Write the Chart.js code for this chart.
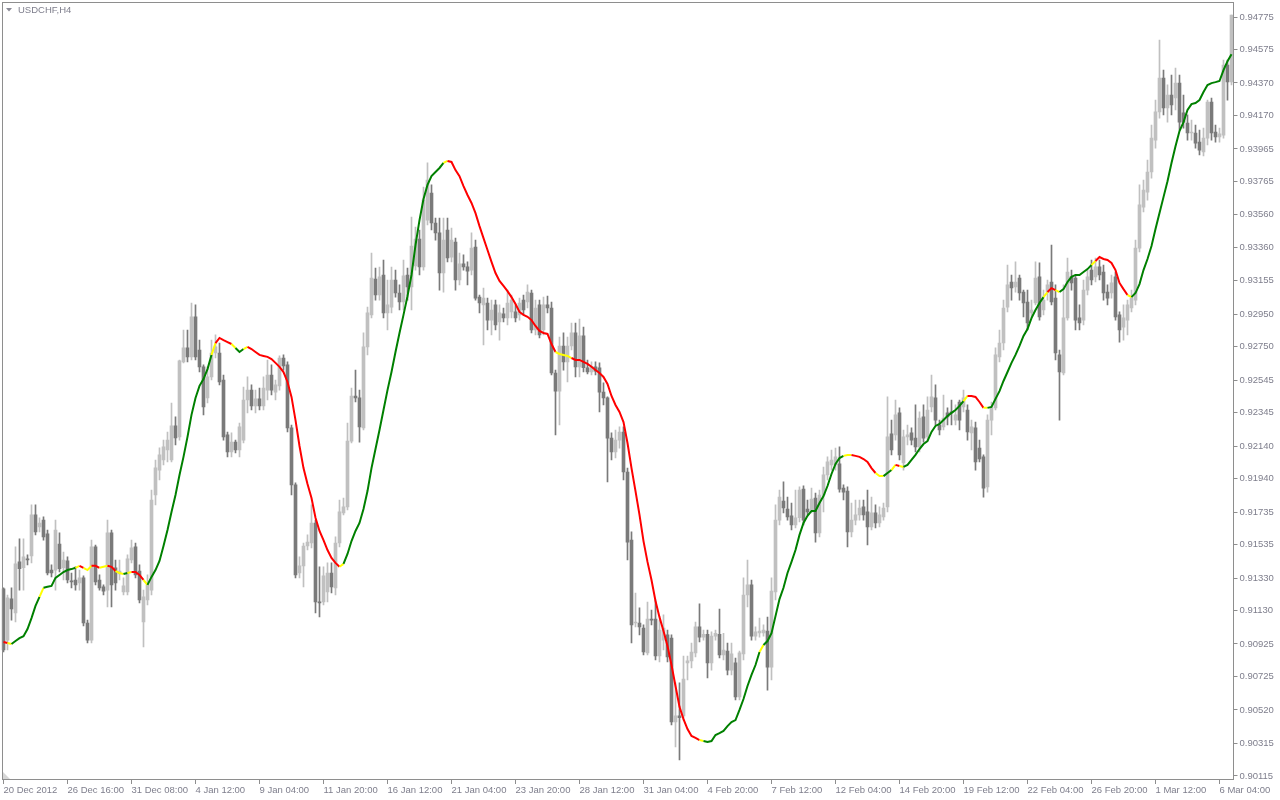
<!DOCTYPE html>
<html>
<head>
<meta charset="utf-8">
<title>USDCHF,H4</title>
<script src="https://cdn.jsdelivr.net/npm/chart.js@4/dist/chart.umd.min.js"></script>
<style>
  html, body { margin: 0; padding: 0; background: #ffffff; }
  #wrap { width: 1280px; height: 800px; }
</style>
</head>
<body>
<div id="wrap"><canvas id="chart" width="1280" height="800"></canvas></div>
<script>
// USDCHF H4 candles, 20 Dec 2012 .. 6 Mar 2013
const opens = [
  0.91264,0.90949,0.91202,0.91116,0.91429,0.91393,0.91448,0.91466,0.91718,0.91644,
  0.91686,0.91601,0.91379,0.91379,0.91539,0.91393,0.91435,0.91312,0.91318,0.91300,
  0.91331,0.91054,0.90949,0.91521,0.91318,0.91276,0.91256,0.91607,0.91393,0.91355,
  0.91244,0.91244,0.91441,0.91521,0.91373,0.91060,0.91195,0.91256,0.91840,0.91993,
  0.92055,0.92116,0.92055,0.92264,0.92197,0.92657,0.92743,0.92688,0.92934,0.92730,
  0.92627,0.92436,0.92565,0.92712,0.92712,0.92546,0.92209,0.92104,0.92165,0.92116,
  0.92177,0.92423,0.92484,0.92387,0.92430,0.92387,0.92484,0.92577,0.92472,0.92510,
  0.92681,0.92639,0.92252,0.91902,0.91361,0.91405,0.91527,0.91545,0.91668,0.91183,
  0.91183,0.91244,0.91361,0.91270,0.91545,0.91730,0.91767,0.92171,0.92448,0.92436,
  0.92252,0.92749,0.92946,0.93166,0.93068,0.93191,0.92958,0.92994,0.93160,0.93080,
  0.93025,0.93191,0.93118,0.93247,0.93411,0.93241,0.93528,0.93694,0.93510,0.93449,
  0.93203,0.93467,0.93301,0.93393,0.93160,0.93259,0.93241,0.93221,0.93362,0.93055,
  0.93007,0.93019,0.92914,0.93007,0.92902,0.92952,0.92928,0.92964,0.92964,0.92946,
  0.93037,0.93025,0.93080,0.92853,0.93007,0.92853,0.93007,0.92988,0.92589,0.92478,
  0.92755,0.92657,0.92755,0.92835,0.92627,0.92817,0.92621,0.92595,0.92627,0.92621,
  0.92472,0.92436,0.92189,0.92104,0.92177,0.92227,0.91981,0.91563,0.91054,0.91054,
  0.91023,0.90870,0.91078,0.91078,0.90852,0.90949,0.90981,0.90961,0.90446,0.90484,
  0.90484,0.90809,0.90821,0.90870,0.91030,0.90967,0.90985,0.90809,0.90973,0.90985,
  0.90858,0.90882,0.90765,0.90809,0.90600,0.90864,0.91226,0.91288,0.90973,0.90993,
  0.90993,0.91005,0.90783,0.91244,0.91686,0.91803,0.91754,0.91712,0.91656,0.91700,
  0.91876,0.91754,0.91748,0.91821,0.91607,0.91840,0.91963,0.92025,0.92025,0.92031,
  0.91882,0.91864,0.91613,0.91686,0.91718,0.91767,0.91736,0.91644,0.91730,0.91668,
  0.91706,0.91767,0.92215,0.92209,0.92344,0.92037,0.92197,0.92221,0.92189,0.92135,
  0.92320,0.92197,0.92381,0.92436,0.92270,0.92258,0.92344,0.92350,0.92300,0.92411,
  0.92381,0.92362,0.92221,0.92252,0.92128,0.92074,0.91890,0.92300,0.92375,0.92688,
  0.92773,0.92994,0.93148,0.93118,0.93172,0.93086,0.93025,0.92958,0.93019,0.93179,
  0.92976,0.93086,0.93148,0.93049,0.92700,0.92589,0.92928,0.93179,0.93172,0.92928,
  0.92914,0.93098,0.93221,0.93179,0.93241,0.93209,0.93086,0.93080,0.93179,0.92946,
  0.92871,0.92914,0.92988,0.93037,0.93356,0.93608,0.93700,0.93823,0.94019,0.94192,
  0.94400,0.94216,0.94296,0.94278,0.94370,0.94186,0.94124,0.94063,0.94063,0.94007,
  0.93946,0.94031,0.94253,0.94069,0.94038,0.94050,0.94480,0.94376
];
const highs = [
  0.91270,0.91226,0.91270,0.91521,0.91571,0.91571,0.91472,0.91779,0.91779,0.91700,
  0.91706,0.91625,0.91411,0.91686,0.91607,0.91490,0.91460,0.91361,0.91399,0.91379,
  0.91343,0.91072,0.91563,0.91533,0.91349,0.91288,0.91686,0.91625,0.91441,0.91441,
  0.91331,0.91472,0.91563,0.91545,0.91411,0.91256,0.91349,0.91870,0.92055,0.92129,
  0.92177,0.92227,0.92405,0.92320,0.92669,0.92853,0.92853,0.93019,0.93007,0.92791,
  0.92639,0.92627,0.92791,0.92823,0.92773,0.92577,0.92227,0.92221,0.92177,0.92282,
  0.92502,0.92565,0.92516,0.92484,0.92496,0.92565,0.92669,0.92639,0.92546,0.92694,
  0.92700,0.92657,0.92270,0.91914,0.91460,0.91545,0.91595,0.91779,0.91686,0.91399,
  0.91399,0.91423,0.91423,0.91583,0.91809,0.91821,0.92282,0.92496,0.92607,0.92484,
  0.92835,0.92994,0.93326,0.93233,0.93239,0.93283,0.93160,0.93239,0.93221,0.93130,
  0.93283,0.93233,0.93546,0.93485,0.93467,0.93730,0.93879,0.93744,0.93540,0.93540,
  0.93540,0.93540,0.93479,0.93417,0.93326,0.93314,0.93271,0.93449,0.93405,0.93068,
  0.93110,0.93049,0.93037,0.93037,0.93007,0.92988,0.93098,0.93068,0.93007,0.93049,
  0.93068,0.93130,0.93098,0.93037,0.93037,0.93055,0.93061,0.93025,0.92607,0.92809,
  0.92835,0.92809,0.92896,0.92896,0.92920,0.92871,0.92669,0.92657,0.92657,0.92651,
  0.92528,0.92442,0.92221,0.92239,0.92258,0.92258,0.92005,0.91613,0.91238,0.91147,
  0.91042,0.91183,0.91134,0.91195,0.91072,0.91104,0.91011,0.90981,0.90686,0.90686,
  0.90851,0.90851,0.90931,0.91060,0.91171,0.91011,0.91011,0.90999,0.91011,0.91140,
  0.90991,0.90931,0.90931,0.90839,0.90882,0.91331,0.91441,0.91318,0.91030,0.91084,
  0.91042,0.91090,0.91331,0.91779,0.91870,0.91920,0.91827,0.91791,0.91870,0.91890,
  0.91896,0.91809,0.91882,0.91852,0.91870,0.92011,0.92074,0.92116,0.92128,0.92135,
  0.91902,0.91890,0.91791,0.91809,0.91809,0.91809,0.91870,0.91827,0.91779,0.91767,
  0.91791,0.92442,0.92300,0.92423,0.92375,0.92239,0.92270,0.92252,0.92393,0.92350,
  0.92393,0.92442,0.92577,0.92516,0.92300,0.92454,0.92375,0.92423,0.92393,0.92423,
  0.92484,0.92393,0.92300,0.92288,0.92177,0.92086,0.92332,0.92411,0.92743,0.92853,
  0.93037,0.93252,0.93191,0.93271,0.93191,0.93098,0.93098,0.93037,0.93271,0.93265,
  0.93098,0.93160,0.93374,0.93130,0.92730,0.93130,0.93295,0.93221,0.93191,0.93007,
  0.93160,0.93221,0.93283,0.93295,0.93283,0.93252,0.93130,0.93191,0.93209,0.92964,
  0.93007,0.93037,0.93098,0.93405,0.93744,0.93774,0.93897,0.94112,0.94265,0.94633,
  0.94449,0.94358,0.94419,0.94461,0.94419,0.94296,0.94174,0.94142,0.94112,0.94081,
  0.94093,0.94265,0.94277,0.94112,0.94093,0.94511,0.94511,0.94787
];
const lows = [
  0.90876,0.90888,0.91072,0.91060,0.91256,0.91256,0.91411,0.91423,0.91595,0.91613,
  0.91563,0.91349,0.91337,0.91256,0.91367,0.91318,0.91300,0.91270,0.91256,0.91256,
  0.91036,0.90931,0.90931,0.91288,0.91256,0.91226,0.91153,0.91153,0.91256,0.91318,
  0.91226,0.91226,0.91423,0.91331,0.91177,0.90907,0.91165,0.91226,0.91779,0.91932,
  0.92025,0.92043,0.92043,0.92147,0.92177,0.92651,0.92657,0.92669,0.92669,0.92595,
  0.92332,0.92405,0.92546,0.92681,0.92516,0.92177,0.92074,0.92074,0.92098,0.92074,
  0.92159,0.92344,0.92362,0.92344,0.92362,0.92362,0.92423,0.92454,0.92423,0.92484,
  0.92607,0.92227,0.91840,0.91331,0.91331,0.91276,0.91502,0.91515,0.91116,0.91092,
  0.91165,0.91183,0.91238,0.91226,0.91521,0.91718,0.91748,0.92159,0.92411,0.92165,
  0.92239,0.92700,0.92928,0.93037,0.93037,0.92928,0.92853,0.92958,0.93055,0.92976,
  0.92976,0.93037,0.92976,0.93221,0.93191,0.93221,0.93498,0.93467,0.93405,0.93098,
  0.93086,0.93271,0.93271,0.93098,0.93130,0.93221,0.93130,0.93191,0.93037,0.92958,
  0.92761,0.92853,0.92823,0.92853,0.92791,0.92902,0.92884,0.92928,0.92902,0.92914,
  0.92946,0.92988,0.92835,0.92823,0.92805,0.92823,0.92958,0.92577,0.92209,0.92270,
  0.92607,0.92534,0.92730,0.92565,0.92565,0.92595,0.92583,0.92577,0.92577,0.92350,
  0.92393,0.91920,0.92055,0.92067,0.92128,0.91932,0.91441,0.90931,0.91030,0.90981,
  0.90858,0.90858,0.91042,0.90827,0.90815,0.90888,0.90815,0.90428,0.90293,0.90213,
  0.90458,0.90704,0.90778,0.90846,0.90937,0.90949,0.90716,0.90765,0.90949,0.90840,
  0.90827,0.90735,0.90735,0.90581,0.90581,0.90827,0.91153,0.90949,0.90949,0.90967,
  0.90973,0.90642,0.90704,0.91195,0.91656,0.91730,0.91686,0.91625,0.91637,0.91674,
  0.91656,0.91718,0.91730,0.91551,0.91583,0.91736,0.91932,0.91993,0.91993,0.91858,
  0.91809,0.91521,0.91583,0.91656,0.91686,0.91686,0.91533,0.91625,0.91637,0.91644,
  0.91686,0.91736,0.92086,0.92177,0.92055,0.91993,0.92147,0.92147,0.92104,0.92104,
  0.92165,0.92177,0.92350,0.92270,0.92209,0.92239,0.92270,0.92270,0.92270,0.92239,
  0.92350,0.92177,0.92116,0.91993,0.92043,0.91827,0.91858,0.92209,0.92362,0.92657,
  0.92730,0.92964,0.93037,0.93086,0.93037,0.92934,0.92853,0.92928,0.93007,0.92914,
  0.92946,0.93037,0.93007,0.92669,0.92300,0.92577,0.92914,0.93098,0.92853,0.92853,
  0.92884,0.93068,0.93130,0.93148,0.93160,0.93037,0.93007,0.93049,0.92914,0.92779,
  0.92791,0.92823,0.92964,0.93007,0.93332,0.93578,0.93651,0.93786,0.93970,0.94154,
  0.94174,0.94130,0.94174,0.94204,0.94081,0.94093,0.94019,0.94019,0.93970,0.93928,
  0.93922,0.93989,0.94019,0.94007,0.94007,0.94031,0.94265,0.94358
];
const closes = [
  0.90888,0.91208,0.91141,0.91417,0.91387,0.91460,0.91441,0.91718,0.91613,0.91668,
  0.91583,0.91361,0.91361,0.91625,0.91387,0.91441,0.91318,0.91306,0.91288,0.91331,
  0.91054,0.90949,0.91521,0.91306,0.91270,0.91250,0.91607,0.91288,0.91300,0.91373,
  0.91282,0.91448,0.91515,0.91349,0.91195,0.91214,0.91288,0.91809,0.92007,0.92086,
  0.92135,0.92177,0.92264,0.92191,0.92663,0.92743,0.92688,0.92934,0.92688,0.92627,
  0.92381,0.92565,0.92712,0.92749,0.92534,0.92197,0.92104,0.92165,0.92116,0.92258,
  0.92423,0.92484,0.92387,0.92430,0.92387,0.92496,0.92577,0.92484,0.92516,0.92681,
  0.92633,0.92252,0.91902,0.91349,0.91405,0.91527,0.91551,0.91668,0.91183,0.91177,
  0.91343,0.91361,0.91276,0.91545,0.91736,0.91767,0.92171,0.92448,0.92436,0.92258,
  0.92749,0.92958,0.93172,0.93068,0.93179,0.92958,0.93007,0.93160,0.93080,0.93025,
  0.93185,0.93118,0.93369,0.93411,0.93241,0.93651,0.93774,0.93510,0.93449,0.93203,
  0.93405,0.93295,0.93405,0.93160,0.93259,0.93241,0.93215,0.93356,0.93049,0.93019,
  0.93049,0.92914,0.92976,0.92884,0.92958,0.92928,0.93019,0.93037,0.92928,0.93019,
  0.92976,0.93086,0.92853,0.92988,0.92823,0.93007,0.92988,0.92589,0.92478,0.92755,
  0.92657,0.92755,0.92835,0.92627,0.92817,0.92621,0.92595,0.92627,0.92601,0.92472,
  0.92436,0.92189,0.92104,0.92177,0.92227,0.91981,0.91551,0.91042,0.91060,0.91030,
  0.90876,0.91078,0.91072,0.90852,0.91011,0.91023,0.90846,0.90446,0.90484,0.90472,
  0.90710,0.90821,0.90876,0.91030,0.90967,0.90985,0.90809,0.90973,0.90991,0.90858,
  0.90888,0.90765,0.90864,0.90600,0.90870,0.91226,0.91288,0.90973,0.90999,0.91005,
  0.91011,0.90783,0.91250,0.91686,0.91827,0.91760,0.91706,0.91656,0.91700,0.91870,
  0.91686,0.91736,0.91815,0.91607,0.91840,0.91963,0.92043,0.92055,0.92074,0.91876,
  0.91858,0.91613,0.91686,0.91718,0.91760,0.91718,0.91644,0.91730,0.91668,0.91718,
  0.91760,0.92197,0.92116,0.92332,0.92086,0.92197,0.92209,0.92177,0.92135,0.92312,
  0.92189,0.92362,0.92442,0.92300,0.92239,0.92312,0.92320,0.92344,0.92332,0.92300,
  0.92436,0.92227,0.92258,0.92043,0.92061,0.91882,0.92300,0.92375,0.92700,0.92773,
  0.92988,0.93130,0.93112,0.93148,0.93080,0.93019,0.92896,0.92976,0.93172,0.92934,
  0.93037,0.93130,0.93025,0.92712,0.92595,0.92928,0.93209,0.93142,0.92914,0.92896,
  0.93098,0.93179,0.93160,0.93241,0.93191,0.93080,0.93049,0.93142,0.92934,0.92853,
  0.92928,0.93007,0.93049,0.93356,0.93621,0.93712,0.93823,0.94031,0.94192,0.94400,
  0.94216,0.94296,0.94235,0.94370,0.94130,0.94130,0.94063,0.94069,0.94001,0.93958,
  0.94031,0.94253,0.94063,0.94038,0.94057,0.94480,0.94376,0.94787
];
// smoothed trend line, one value per bar
const ma = [
  0.90937,0.90931,0.90925,0.90943,0.90961,0.90973,0.91017,0.91084,0.91159,0.91214,
  0.91270,0.91276,0.91282,0.91331,0.91349,0.91367,0.91379,0.91385,0.91393,0.91405,
  0.91393,0.91379,0.91405,0.91405,0.91393,0.91399,0.91405,0.91399,0.91373,0.91361,
  0.91355,0.91361,0.91367,0.91367,0.91349,0.91318,0.91288,0.91337,0.91379,0.91435,
  0.91527,0.91625,0.91736,0.91840,0.91963,0.92074,0.92197,0.92332,0.92436,0.92510,
  0.92552,0.92613,0.92700,0.92773,0.92804,0.92791,0.92779,0.92767,0.92743,0.92718,
  0.92736,0.92749,0.92736,0.92718,0.92700,0.92694,0.92688,0.92675,0.92651,0.92627,
  0.92595,0.92534,0.92442,0.92300,0.92141,0.92005,0.91908,0.91821,0.91700,0.91619,
  0.91563,0.91502,0.91453,0.91423,0.91399,0.91417,0.91478,0.91557,0.91619,0.91668,
  0.91754,0.91864,0.92005,0.92122,0.92239,0.92362,0.92484,0.92595,0.92718,0.92835,
  0.92946,0.93061,0.93191,0.93374,0.93528,0.93657,0.93744,0.93798,0.93823,0.93848,
  0.93879,0.93891,0.93885,0.93835,0.93798,0.93737,0.93682,0.93633,0.93571,0.93491,
  0.93417,0.93344,0.93271,0.93203,0.93154,0.93124,0.93092,0.93055,0.93013,0.92964,
  0.92946,0.92934,0.92914,0.92878,0.92847,0.92835,0.92829,0.92767,0.92718,0.92706,
  0.92700,0.92694,0.92681,0.92669,0.92669,0.92657,0.92645,0.92627,0.92607,0.92589,
  0.92565,0.92522,0.92448,0.92393,0.92350,0.92288,0.92159,0.92005,0.91864,0.91718,
  0.91557,0.91429,0.91318,0.91189,0.91090,0.91005,0.90913,0.90796,0.90667,0.90539,
  0.90464,0.90403,0.90360,0.90348,0.90335,0.90329,0.90323,0.90329,0.90366,0.90378,
  0.90391,0.90421,0.90446,0.90458,0.90520,0.90587,0.90667,0.90735,0.90796,0.90876,
  0.90919,0.90943,0.90991,0.91096,0.91201,0.91270,0.91361,0.91429,0.91502,0.91595,
  0.91668,0.91712,0.91742,0.91742,0.91791,0.91833,0.91895,0.91969,0.92031,0.92067,
  0.92080,0.92086,0.92086,0.92080,0.92074,0.92061,0.92043,0.92005,0.91975,0.91956,
  0.91956,0.91975,0.91993,0.92025,0.92018,0.92012,0.92025,0.92055,0.92086,0.92122,
  0.92153,0.92171,0.92227,0.92264,0.92276,0.92300,0.92325,0.92344,0.92362,0.92387,
  0.92417,0.92448,0.92448,0.92442,0.92411,0.92375,0.92375,0.92381,0.92430,0.92478,
  0.92540,0.92595,0.92651,0.92700,0.92755,0.92817,0.92859,0.92926,0.92976,0.93019,
  0.93055,0.93086,0.93110,0.93098,0.93086,0.93104,0.93148,0.93179,0.93191,0.93191,
  0.93209,0.93227,0.93252,0.93277,0.93301,0.93289,0.93283,0.93265,0.93221,0.93142,
  0.93104,0.93068,0.93055,0.93080,0.93135,0.93221,0.93289,0.93369,0.93473,0.93571,
  0.93669,0.93767,0.93878,0.93982,0.94075,0.94130,0.94204,0.94240,0.94247,0.94265,
  0.94314,0.94357,0.94369,0.94375,0.94382,0.94449,0.94504,0.94547
];
// line colour state as [code, number of bars]: g up, r down, y flat
const maColorRuns = [
  ['r',1],['y',1],['g',7],['y',1],['g',8],['y',1],['r',1],['y',2],['r',2],['y',2],
  ['r',2],['y',2],['g',1],['y',1],['r',3],['y',1],['g',16],['y',1],['r',4],['y',1],
  ['g',2],['y',1],['r',23],['y',1],['g',25],['y',1],['r',27],['y',4],['r',32],['y',1],
  ['g',14],['y',1],['g',20],['y',2],['r',6],['y',2],['g',2],['y',1],['r',1],['y',1],
  ['g',15],['y',1],['r',4],['y',1],['g',14],['y',1],['r',2],['y',1],['g',8],['y',1],
  ['r',8],['y',1],['g',26]
];
const dateLabels = [
  '20 Dec 2012','26 Dec 16:00','31 Dec 08:00','4 Jan 12:00','9 Jan 04:00',
  '11 Jan 20:00','16 Jan 12:00','21 Jan 04:00','23 Jan 20:00','28 Jan 12:00',
  '31 Jan 04:00','4 Feb 20:00','7 Feb 12:00','12 Feb 04:00','14 Feb 20:00',
  '19 Feb 12:00','22 Feb 04:00','26 Feb 20:00','1 Mar 12:00','6 Mar 04:00'
];
const barsPerLabel = 16;
const priceTicks = [
  0.94775,0.94575,0.94370,0.94170,0.93965,0.93765,0.93560,0.93360,0.93155,0.92950,
  0.92750,0.92545,0.92345,0.92140,0.91940,0.91735,0.91535,0.91330,0.91130,0.90925,
  0.90725,0.90520,0.90315,0.90115
];

const bullColor = '#c0c0c0';
const bearColor = '#7a7a7a';
const lineColors = { g: '#008000', r: '#ff0000', y: '#ffff00' };
const axisColor = '#8e8e8e';
const textColor = '#7e7e8c';
const font = { family: "'Liberation Sans', Arial, sans-serif", size: 9.5 };

const maState = maColorRuns.flatMap(([c, n]) => Array(n).fill(c));
const candleColor = opens.map((o, i) => closes[i] >= o ? bullColor : bearColor);

// border, symbol caption and corner mark, like the terminal window
const chartFrame = {
  id: 'chartFrame',
  afterDraw(chart) {
    const { ctx, chartArea: a } = chart;
    const l = Math.round(a.left) + 0.5, t = Math.round(a.top) - 0.5;
    const r = Math.floor(a.right) + 0.5, b = Math.floor(a.bottom) + 0.5;
    ctx.save();
    ctx.strokeStyle = axisColor;
    ctx.lineWidth = 1;
    ctx.strokeRect(l, t, r - l, b - t);
    ctx.fillStyle = '#8a8a96';
    ctx.beginPath();
    ctx.moveTo(6, 8); ctx.lineTo(12, 8); ctx.lineTo(9, 11.5); ctx.closePath();
    ctx.fill();
    ctx.font = "9.5px 'Liberation Sans', Arial, sans-serif";
    ctx.fillStyle = textColor;
    ctx.textBaseline = 'middle';
    ctx.fillText('USDCHF,H4', 18, 10);
    ctx.fillStyle = '#d6d6d6';
    ctx.beginPath();
    ctx.moveTo(3, 772); ctx.lineTo(3, 779); ctx.lineTo(10, 779); ctx.closePath();
    ctx.fill();
    ctx.restore();
  }
};

new Chart(document.getElementById('chart'), {
  type: 'bar',
  data: {
    labels: opens.map((_, i) => i),
    datasets: [
      {
        type: 'line',
        data: ma,
        order: 0,
        borderWidth: 2,
        borderColor: lineColors.g,
        pointRadius: 0,
        tension: 0,
        segment: { borderColor: c => lineColors[maState[c.p0DataIndex]] }
      },
      {
        data: opens.map((o, i) => [o, closes[i]]),
        order: 1,
        grouped: false,
        barThickness: 3,
        minBarLength: 1,
        backgroundColor: candleColor
      },
      {
        data: lows.map((l, i) => [l, highs[i]]),
        order: 2,
        grouped: false,
        barThickness: 1,
        backgroundColor: candleColor
      }
    ]
  },
  options: {
    responsive: false,
    animation: false,
    layout: { padding: { top: 3, left: 1.5, right: 0, bottom: 0 } },
    plugins: { legend: { display: false }, tooltip: { enabled: false } },
    scales: {
      x: {
        offset: true,
        grid: { drawOnChartArea: false, tickLength: 5, color: axisColor, offset: false },
        border: { display: false },
        ticks: {
          autoSkip: false, maxRotation: 0, align: 'start', labelOffset: 0, padding: 1,
          color: textColor, font,
          callback: v => v % barsPerLabel === 0 ? dateLabels[v / barsPerLabel] : ''
        },
        afterBuildTicks: s => { s.ticks = s.ticks.filter(t => t.value % barsPerLabel === 0); },
        afterFit: s => { s.height = 21; s.paddingLeft = 0; s.paddingRight = 0; }
      },
      y: {
        position: 'right',
        bounds: 'data',
        min: 0.90096,
        max: 0.94861,
        grid: { drawOnChartArea: false, tickLength: 4, color: axisColor },
        border: { display: false },
        ticks: { padding: 2, color: textColor, font, callback: v => v.toFixed(5) },
        afterBuildTicks: s => { s.ticks = priceTicks.map(v => ({ value: v })); },
        afterFit: s => { s.width = 46.5; s.paddingTop = 0; s.paddingBottom = 0; }
      }
    }
  },
  plugins: [chartFrame]
});
</script>
</body>
</html>
